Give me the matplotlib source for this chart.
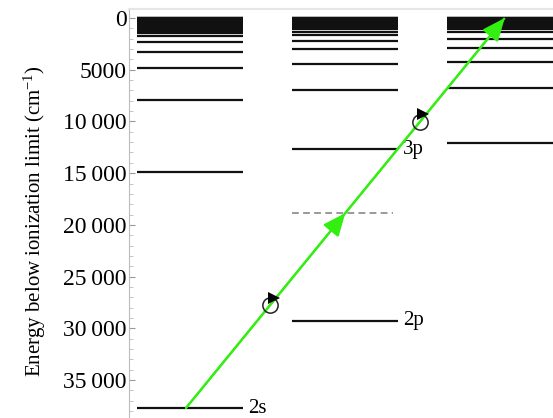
import numpy as np
import matplotlib
matplotlib.use("Agg")
import matplotlib.pyplot as plt
import matplotlib.transforms as mtransforms
from matplotlib.ticker import MultipleLocator, FuncFormatter

plt.rcParams['font.family'] = ['Liberation Serif', 'DejaVu Serif']
plt.rcParams['mathtext.fontset'] = 'custom'
plt.rcParams['mathtext.rm'] = 'Liberation Serif'
plt.rcParams['mathtext.it'] = 'Liberation Serif:italic'

# Energy levels below the ionization limit (cm^-1)
s_levels = [37710, 14890, 7930, 4830, 3260, 2350, 1710, 1480, 1260]
p_levels = [29290, 12670, 6960, 4450, 2990, 2220, 1640, 1350]
d_levels = [12090, 6770, 4250, 2900, 2030, 1350]

# dense Rydberg levels near the limit (too close to separate by eye)
s_band = [1060, 920, 800, 680, 580, 500, 440, 390, 345, 308, 277, 227,
          189, 160, 137, 119, 88, 68, 44, 30, 15]
p_band = [1110, 925, 785, 675, 585, 515, 455, 405, 365, 330, 300, 270,
          230, 195, 165, 140, 120, 90, 70, 45, 30, 15]
d_band = [1100, 910, 760, 650, 560, 490, 430, 380, 340, 304, 274, 227,
          191, 162, 140, 122, 90, 69, 44, 30, 15]

virtual_level = 18850          # dashed intermediate level
pol_marks = [27750, 10050]     # circular polarization symbols on the beam
labels = [("2s", 0, 37710), ("2p", 1, 29290), ("3p", 1, 12670)]

# layout (column units; one column is 1 wide)
col_x = [0.0, 1.462, 2.925]
col_w = 1.0
beam_x0, beam_x1 = 0.462, 3.47
green = '#33ee11'
level_col = '#111111'

fig = plt.figure(figsize=(5.53, 4.18), dpi=100)
ax = fig.add_axes([129 / 553, 0, 424 / 553, 409 / 418])

for x0, lev, band in zip(col_x, [s_levels, p_levels, d_levels],
                         [s_band, p_band, d_band]):
    ax.hlines(lev + band, x0, x0 + col_w, color=level_col, lw=1.6)

ax.hlines(virtual_level, col_x[1], col_x[1] + 0.955, color='#999999',
          lw=1.4, linestyles=(0, (3.5, 2.2)))

for name, c, e in labels:
    ax.text(col_x[c] + col_w + 0.05, e, name, fontsize=15,
            va='center', ha='left')

# laser beam from 2s to the ionization limit
E0 = s_levels[0]
def beam_x(e):
    return beam_x0 + (beam_x1 - beam_x0) * (E0 - e) / E0

ax.plot([beam_x(E0), beam_x(0)], [E0, 0], color=green, lw=1.6,
        solid_capstyle='butt', zorder=3)
for a, b in [(E0, virtual_level), (virtual_level, 0)]:
    ax.annotate("", xy=(beam_x(b), b), xytext=(beam_x(a), a),
                arrowprops=dict(arrowstyle='-|>,head_length=0.7,head_width=0.3',
                                mutation_scale=20, color=green, lw=1.6,
                                shrinkA=0, shrinkB=0), zorder=4)

tri_tr = mtransforms.offset_copy(ax.transData, fig=fig, x=3.5, y=7.5,
                                 units='dots')
for e in pol_marks:
    ax.plot(beam_x(e), e, marker='o', ms=11, mfc='none', mec='#222222',
            mew=1.1, zorder=5)
    ax.plot(beam_x(e), e, marker='>', ms=8, color='black', mew=0,
            transform=tri_tr, zorder=6)

ax.set_xlim(-0.075, 3.925)
ax.set_ylim(38670, -870)

ax.yaxis.set_major_locator(MultipleLocator(5000))
ax.yaxis.set_minor_locator(MultipleLocator(1000))
ax.yaxis.set_major_formatter(FuncFormatter(
    lambda v, p: f"{int(v):,}".replace(",", "\u2009") if v >= 10000 else f"{int(v)}"))
ax.tick_params(axis='y', which='major', direction='in', length=4,
               color='#999999', labelsize=17, pad=1.5)
ax.tick_params(axis='y', which='minor', direction='in', length=3,
               color='#bbbbbb')
ax.set_xticks([])
ax.set_ylabel(r"Energy below ionization limit (cm$^{-1}$)", fontsize=15)
ax.yaxis.set_label_coords(-0.19, 0.482)

for side in ['right', 'bottom']:
    ax.spines[side].set_visible(False)
ax.spines['left'].set_color('#bbbbbb')
ax.spines['top'].set_color('#e6e6e6')
ax.spines['top'].set_linewidth(1.5)

fig.savefig("out.png", dpi=100)
